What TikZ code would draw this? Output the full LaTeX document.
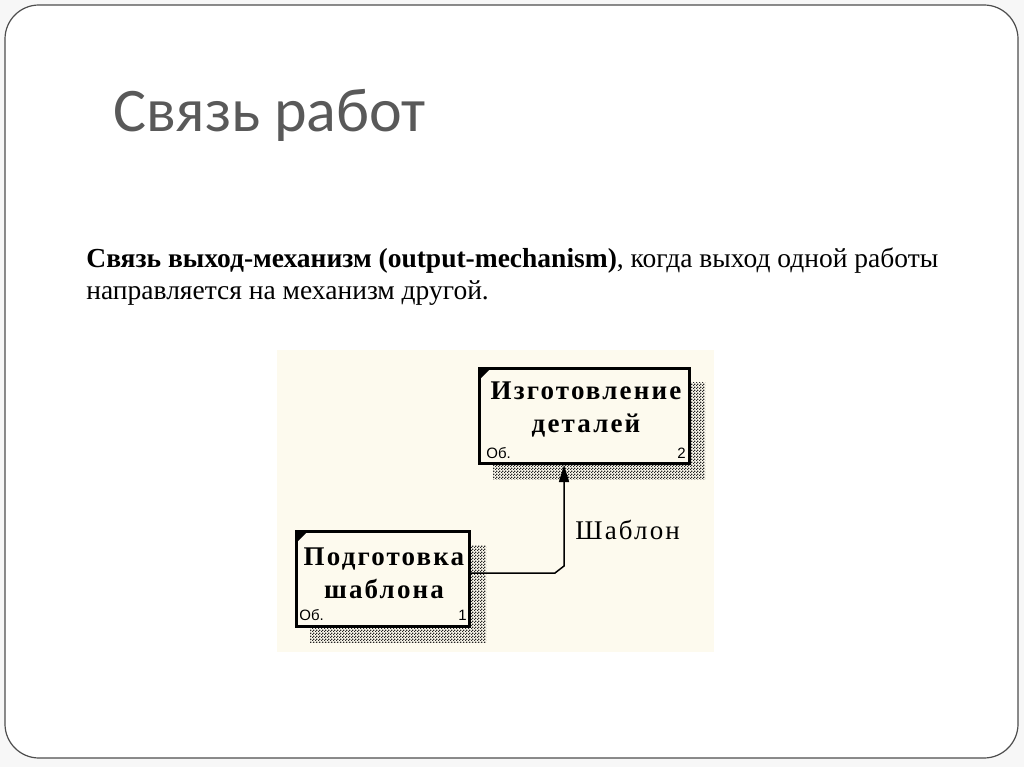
\documentclass[tikz,border=0pt]{standalone}
\usepackage{fontspec}
\setmainfont{Liberation Serif}
\newfontfamily\titlefont{Carlito}
\newfontfamily\idefserif[LetterSpace=8]{Liberation Serif}
\newfontfamily\idefsans{Liberation Sans}
\usetikzlibrary{arrows.meta,patterns,calc}

\definecolor{slidegray}{HTML}{595959}
\definecolor{framegray}{HTML}{4D4D4D}
\definecolor{idefbg}{HTML}{FDFAEE}

% checker pattern for the box shadows
\pgfdeclarepatternformonly{idefcheck}{\pgfqpoint{0pt}{0pt}}{\pgfqpoint{3pt}{3pt}}{\pgfqpoint{3pt}{3pt}}{%
  \pgfpathrectangle{\pgfqpoint{0pt}{0pt}}{\pgfqpoint{1.5pt}{1.5pt}}%
  \pgfpathrectangle{\pgfqpoint{1.5pt}{1.5pt}}{\pgfqpoint{1.5pt}{1.5pt}}%
  \pgfusepath{fill}}

\tikzset{
  procbox/.style={draw, line width=3pt, fill=idefbg, inner sep=0pt},
  procname/.style={font=\idefserif\bfseries\fontsize{27}{33}\selectfont, align=center, inner sep=0pt},
  proctag/.style={font=\idefsans\fontsize{15}{15}\selectfont, inner sep=0pt},
  boxshadow/.style={pattern=idefcheck, pattern color=black!85}
}

\begin{document}
\begin{tikzpicture}[x=1pt, y=-1pt, >=Stealth, thick]
    \useasboundingbox (0,0) rectangle (1024,767);
    \fill[black!3] (0,0) rectangle (1024,767);
    \draw[framegray, line width=1.2pt, fill=white, rounded corners=34pt] (5,5) rectangle (1018,758);

    % Title
    \node[anchor=base west, inner sep=0pt, text=slidegray,
          font=\titlefont\fontsize{62}{62}\selectfont] (title) at (113,132) {Связь работ};

    % Body
    \node[anchor=base west, inner sep=0pt, font=\fontsize{27.5}{32}\selectfont] (line1) at (86,267)
        {\textbf{Связь выход-механизм (output-mechanism)}, когда выход одной работы};
    \node[anchor=base west, inner sep=0pt, font=\fontsize{27.5}{32}\selectfont] (line2) at (86,299)
        {направляется на механизм другой.};

    % Diagram
    \fill[idefbg] (277,350) rectangle (714,652);

    % Shadows
    \fill[boxshadow] (493,382) rectangle (705,479);
    \fill[boxshadow] (310,545) rectangle (486,642);

    % Boxes
    \node[procbox, minimum width=210pt, minimum height=95pt] (izg) at (584.5,416) {};
    \node[procbox, minimum width=173pt, minimum height=95pt] (podg) at (383,579) {};
    \fill ($(izg.north west)+(3,3)$) -- ++(8,0) -- ++(-8,8) -- cycle;
    \fill ($(podg.north west)+(3,3)$) -- ++(8,0) -- ++(-8,8) -- cycle;

    \node[procname] (izgname) at (586,410) {Изготовление\\деталей};
    \node[procname] (podgname) at (384,573) {Подготовка\\шаблона};

    \node[proctag, anchor=base west] (izgtag) at (486,458) {Об.};
    \node[proctag, anchor=base east] (izgnum) at (686,458) {2};
    \node[proctag, anchor=base west] (podgtag) at (299,620) {Об.};
    \node[proctag, anchor=base east] (podgnum) at (467,620) {1};

    % Output -> mechanism
    \coordinate (bend) at (564,573);
    \draw[line width=1.5pt, -{Triangle[length=17pt, width=10pt]}]
        (podg.east |- bend) -- ($(bend)+(-9,0)$) -- ($(bend)+(0,-7)$) -- (izg.south -| bend);
    \node[anchor=base west, inner sep=0pt,
          font=\idefserif\fontsize{27}{27}\selectfont] (shablon) at (575,539) {Шаблон};
\end{tikzpicture}
\end{document}
